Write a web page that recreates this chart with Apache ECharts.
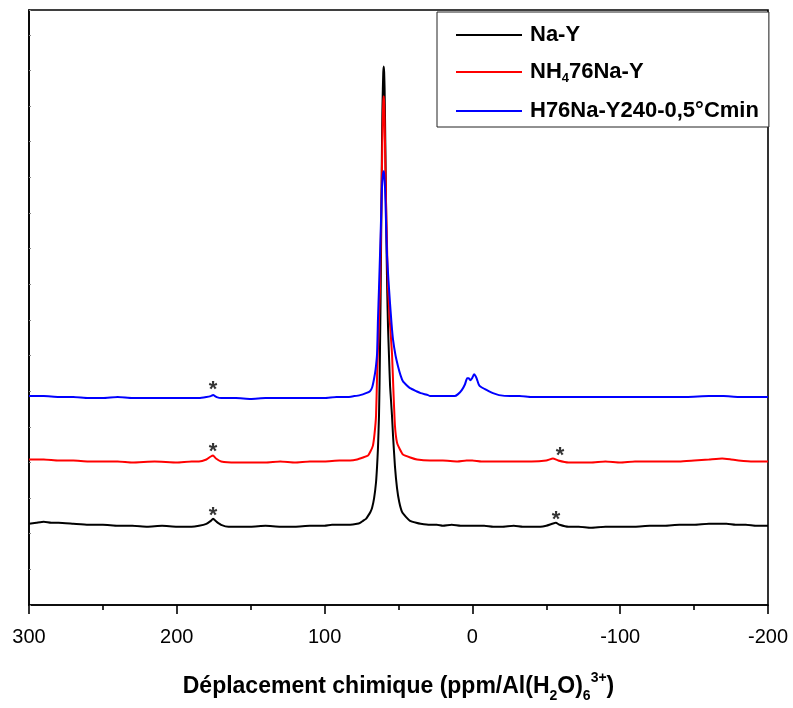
<!DOCTYPE html>
<html>
<head>
<meta charset="utf-8">
<script src="https://cdn.jsdelivr.net/npm/echarts@6/dist/echarts.min.js"></script>
<style>
html,body{margin:0;padding:0;background:#fff;}
#chart{width:793px;height:708px;}
</style>
</head>
<body>
<div id="chart"></div>
<script>
// x tick labels (ppm), inverse axis from 300 to -200
const xTicks = [300, 200, 100, 0, -100, -200];
const seriesNames = ['Na-Y', 'NH4 76Na-Y', 'H76Na-Y240-0,5°Cmin'];
const seriesColors = ['#000000', '#ff0000', '#0000ff'];

// Na-Y : [ppm, intensity]
const naY = [
  [300,82],[295,83],[290,84],[285,83],[280,83],[270,82],[260,81],[250,81],[240,80],[230,80],[220,79],[210,80],[200,79],[190,79],
  [185,80],[180,82],[177,85],[175.5,87],[173,84],[170,81],[165,79],[158,79],
  [150,79],[140,80],[130,79],[120,79],[110,80],[100,80],[95,81],[88,81],[82.8,81],[78,82],[76,83],[74,85],[72,87],[70.6,90],[69,94],
  [67.9,98],[66.5,108],[65.2,124],[64.5,140],[63.9,158],[63.2,191],
  [62.8,225],[62.5,261],[62.1,310],[61.8,361],[61.5,410],[61.2,461],[60.9,500],[60.6,521],[60.3,538],[60.0,544],[59.7,538],[59.4,521],
  [59.1,490],[58.8,451],[58.4,400],[58.0,351],[57.6,315],[57.1,281],[56.4,250],[55.7,221],[55.0,205],[54.4,191],
  [53.7,171],[52.4,140],[51.0,118],[49.5,104],[47.6,94],[45,89],[42.2,85],[38,83],[35,82],[28.7,81],[24,81],[20,80],[14,81],[8,80],[0,80],
  [-8,80],[-14,79],[-20,79],[-28,80],[-34,79],[-40,79],[-46,79],[-50,80],[-54,82],[-56.5,83],
  [-59,81],[-65,79],[-72,79],[-80,78],[-90,79],[-100,79],[-110,79],[-120,80],[-130,80],[-140,81],[-150,81],[-160,82],[-167,82],[-172,82],
  [-178,81],[-185,81],[-192,80],[-200,80]
];

// NH4 76Na-Y
const nh4NaY = [
  [300,147],[295,147],[290,147],[280,146],[270,146],[260,145],[250,145],[240,145],[230,144],[215,145],[200,144],[190,145],[185,145],
  [180,147],[177,150],[175.5,151],[173.5,148],[170,145],
  [160,144],[150,144],[140,144],[130,145],[120,144],[110,145],[100,145],[90,146],[82.8,146],[78,147],[74,149],[70.6,151],[69,155],
  [67.3,161],[66.2,173],[65.2,191],[64.5,231],[63.5,275],[62.5,321],[62.0,365],[61.5,411],[61.0,460],
  [60.6,491],[60.3,508],[60.0,514],[59.7,508],[59.4,491],[59.0,455],[58.5,411],[57.8,365],[57.1,321],[55.8,285],[54.4,254],[53.4,215],
  [52.4,181],[51.0,164],[49,157],[47.0,152],[42,149],[37.5,147],[28.7,146],
  [20,146],[10,145],[4,146],[0,146],[-6,145],[-14,145],[-20,145],[-30,145],[-40,145],[-50,146],[-54.5,148],[-58,146],[-65,144],[-72,144],
  [-80,144],[-90,145],[-100,144],[-110,145],[-120,145],[-130,145],[-140,145],[-150,146],
  [-160,147],[-169,148],[-175,147],[-180,146],[-190,145],[-200,145]
];

// H76Na-Y240-0,5°Cmin
const hNaY = [
  [300,211],[290,211],[280,210],[270,210],[260,209],[250,209],[240,210],[230,209],[220,209],[210,209],[200,209],[190,209],[185,209],
  [180,210],[177,211],[175.5,212],[173,210],[170,209],[160,209],[150,208],[140,209],[130,209],
  [120,209],[110,209],[100,209],[92,210],[85,210],[80,211],[76,212],[72,214],[69.3,216],[67.8,220],[66.6,228],[65.5,238],[64.5,254],
  [63.9,288],[63.2,320],[62.5,354],[61.8,390],[61.2,421],[60.6,434],[60.0,438],[59.6,434],[59.1,421],
  [58.5,390],[57.8,354],[56.8,328],[55.7,304],[54.7,284],[53.7,268],[52,252],[50.3,241],[48.6,232],[47.0,226],[44.5,222],[42.2,219],
  [38,216],[35,214],[30,212],[28.7,211],[22,211],[17.2,211],[12,211],[9.7,213],[7.2,217],[5.0,223],
  [3.6,229],[2.5,229],[1.3,227],[0.2,229],[-1.1,233],[-2.2,231],[-3.1,228],[-4.2,223],[-5.1,221],[-8.5,218],[-11,216],[-13.9,214],
  [-18,212],[-25.4,211],[-32,211],[-40,210],[-50,210],[-60,210],[-70,210],
  [-80,210],[-90,210],[-100,210],[-115,210],[-130,210],[-145,210],[-160,211],[-170,211],[-180,210],[-190,210],[-200,210]
];

// spinning side band markers (*)
const asterisks = [[175.5,222],[175.5,160],[175.5,95],[-59.3,156],[-56.6,91]];

const FONT = 'Arial, "Liberation Sans", sans-serif';
const chart = echarts.init(document.getElementById('chart'), null, {renderer: 'canvas'});

function lineSeries(name, data, color) {
  return {
    name: name, type: 'line', data: data, showSymbol: false, symbol: 'none',
    smooth: 0.15, lineStyle: {color: color, width: 2}, itemStyle: {color: color},
    animation: false, z: 3
  };
}

const option = {
  animation: false,
  backgroundColor: '#fff',
  grid: {left: 29, right: 25, top: 10, bottom: 97, show: true, borderColor: '#000', borderWidth: 1.6},
  legend: {
    orient: 'vertical', left: 437, top: 12,
    padding: [12, 10, 5, 19], itemGap: 15,
    itemWidth: 66, itemHeight: 2, icon: 'rect',
    borderColor: '#222', borderWidth: 1, backgroundColor: '#fff',
    data: seriesNames,
    formatter: function (n) {
      if (n === 'NH4 76Na-Y') return '{a|NH}{s|4}{a|76Na-Y}';
      return '{a|' + n + '}';
    },
    textStyle: {
      padding: [0, 0, 0, 3],
      rich: {
        a: {fontFamily: FONT, fontSize: 22, fontWeight: 'bold', color: '#000', lineHeight: 26, verticalAlign: 'middle'},
        s: {fontFamily: FONT, fontSize: 13, fontWeight: 'bold', color: '#000', lineHeight: 13, verticalAlign: 'bottom'}
      }
    }
  },
  xAxis: {
    type: 'value', inverse: true, min: -200, max: 300, interval: 100,
    name: '{b|Déplacement chimique (ppm/Al(H}{s|2}{b|O)}{s|6}{p|3+}{b|)}',
    nameLocation: 'middle', nameGap: 66,
    nameTextStyle: {
      rich: {
        b: {fontFamily: FONT, fontSize: 23, fontWeight: 'bold', color: '#000', lineHeight: 32, verticalAlign: 'middle'},
        s: {fontFamily: FONT, fontSize: 14, fontWeight: 'bold', color: '#000', lineHeight: 14, verticalAlign: 'bottom'},
        p: {fontFamily: FONT, fontSize: 14, fontWeight: 'bold', color: '#000', lineHeight: 14, verticalAlign: 'top'}
      }
    },
    axisLine: {show: true, onZero: false, lineStyle: {color: '#000', width: 1.6}},
    axisTick: {show: true, inside: false, length: 9, lineStyle: {color: '#000', width: 1.6}},
    minorTick: {show: true, splitNumber: 2, length: 5, lineStyle: {color: '#000', width: 1.6}},
    splitLine: {show: false},
    axisLabel: {
      show: true, margin: 22, fontFamily: FONT, fontSize: 20, color: '#000',
      customValues: xTicks,
      formatter: function (v) { return String(v); }
    }
  },
  yAxis: {
    type: 'value', min: 0, max: 601, interval: 36,
    axisLine: {show: true, onZero: false, lineStyle: {color: '#000', width: 1.6}},
    axisTick: {show: true, inside: true, length: 2, lineStyle: {color: '#888', width: 1}},
    axisLabel: {show: false},
    splitLine: {show: false}
  },
  series: [
    lineSeries(seriesNames[0], naY, seriesColors[0]),
    lineSeries(seriesNames[1], nh4NaY, seriesColors[1]),
    lineSeries(seriesNames[2], hNaY, seriesColors[2]),
    {
      name: 'ssb', type: 'scatter', data: asterisks, symbolSize: 0, silent: true,
      label: {show: true, formatter: '*', position: 'inside', fontFamily: FONT, fontSize: 22, fontWeight: 'bold', color: '#000', offset: [0, 5]},
      z: 5
    }
  ]
};
chart.setOption(option);
</script>
</body>
</html>
